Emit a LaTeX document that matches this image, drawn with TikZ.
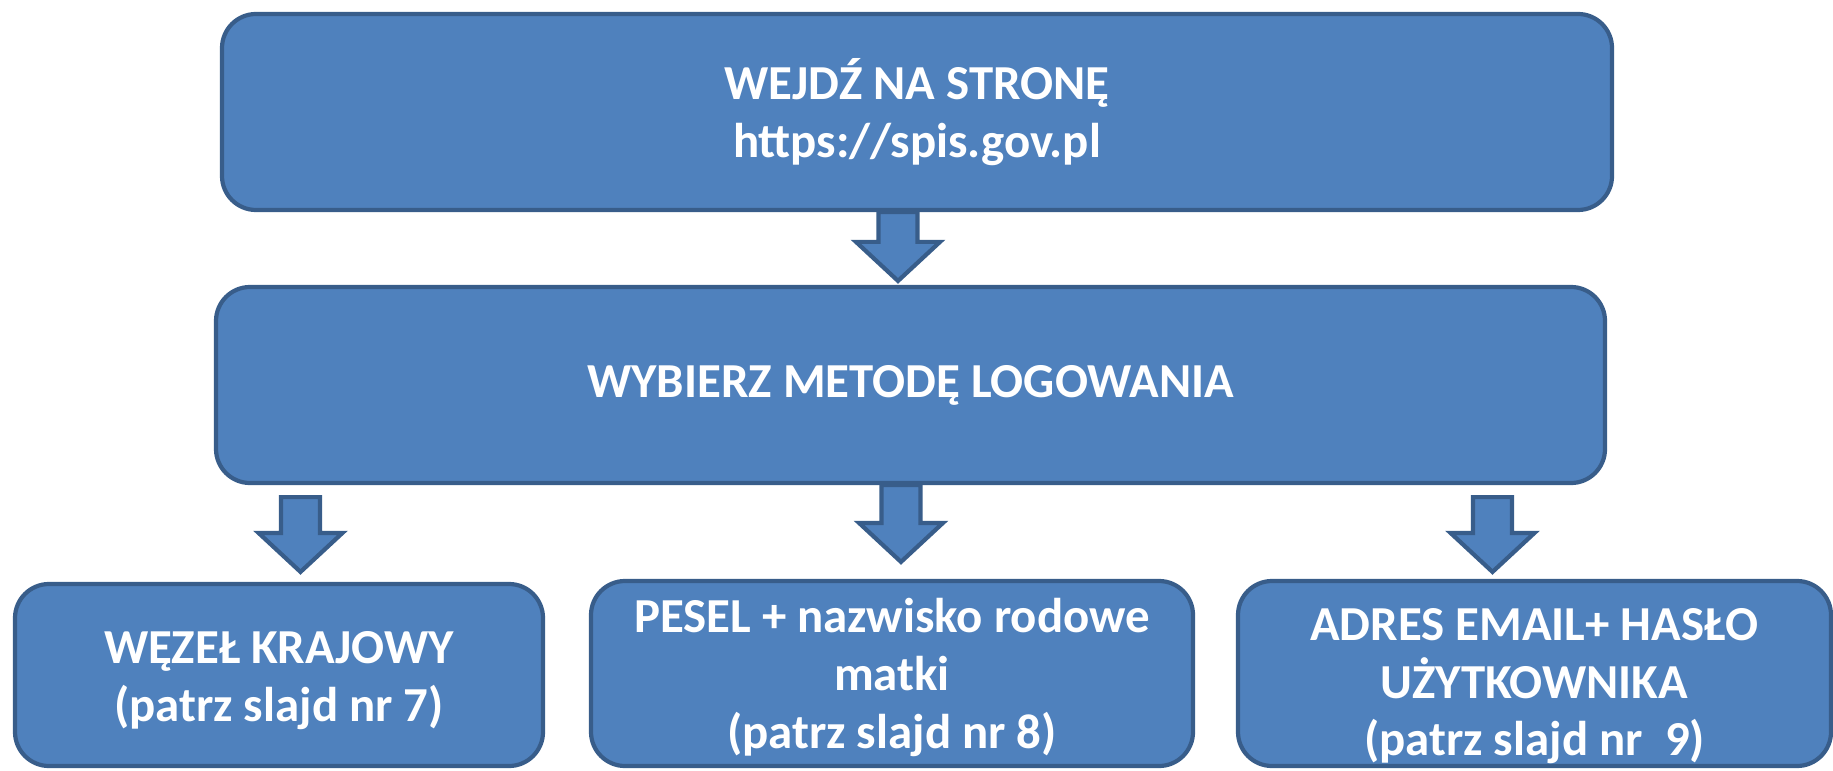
\documentclass[tikz,border=0pt]{standalone}
\usepackage{fontspec}
\setmainfont{Carlito}
\usepackage{tikz}
\usetikzlibrary{calc}
\definecolor{boxfill}{HTML}{4F81BD}
\definecolor{boxline}{HTML}{385D8A}
\tikzstyle{process} = [rectangle, rounded corners=3.4mm, draw=boxline, fill=boxfill, line width=1.2pt, text=white, font=\fontsize{13.9pt}{16.4pt}\selectfont\bfseries, align=center]
\tikzstyle{option} = [process, minimum height=1.85cm, inner ysep=0pt, text depth=0pt]
\tikzstyle{arrow} = [draw=boxline, fill=boxfill, line width=1.2pt, line join=miter, to path={($(\tikztostart)+(-1.95mm,0)$) -- ($(\tikztotarget)+(-1.95mm,3.9mm)$) -- ($(\tikztotarget)+(-4.2mm,3.9mm)$) -- (\tikztotarget) -- ($(\tikztotarget)+(4.2mm,3.9mm)$) -- ($(\tikztotarget)+(1.95mm,3.9mm)$) -- ($(\tikztostart)+(1.95mm,0)$) -- cycle}]

\begin{document}
\begin{tikzpicture}[node distance=2.73cm]
                        \useasboundingbox (0,0) rectangle (18.33,-7.71);

                        \node (1) [process, minimum width=13.9cm, minimum height=1.96cm] at (9.17,-1.12) {WEJDŹ NA STRONĘ\\https://spis.gov.pl};
                        \node (2) [process, below of=1, minimum width=13.89cm, minimum height=1.96cm, xshift=-0.065cm] {WYBIERZ METODĘ LOGOWANIA};

                        \node (4) [option, below of=2, minimum width=6.02cm, xshift=-0.185cm, yshift=-0.155cm, text height=14.95mm] {PESEL + nazwisko rodowe\\matki\\(patrz slajd nr 8)};
                        \node (3) [option, left of=4, minimum width=5.28cm, minimum height=1.82cm, xshift=-3.4cm, yshift=-0.015cm, text height=9.25mm] {WĘZEŁ KRAJOWY\\(patrz slajd nr 7)};
                        \node (5) [option, right of=4, minimum width=5.93cm, xshift=3.695cm, text height=16.45mm] {ADRES EMAIL+ HASŁO\\UŻYTKOWNIKA\\(patrz slajd nr~ 9)};

                        \coordinate (a1) at ([xshift=-1.9mm]1.south);
                        \coordinate (b1) at ([xshift=-1.25mm,yshift=0.4mm]2.north);
                        \coordinate (a2) at ([xshift=-0.95mm]2.south);
                        \coordinate (b2) at ([xshift=0.9mm,yshift=1.7mm]4.north);
                        \coordinate (a3) at ([xshift=-61mm,yshift=-1.2mm]2.south);
                        \coordinate (b3) at ([xshift=2.15mm,yshift=1mm]3.north);
                        \coordinate (a4) at ([xshift=58.2mm,yshift=-1.2mm]2.south);
                        \coordinate (b4) at ([xshift=-4.2mm,yshift=0.7mm]5.north);

                        \draw[arrow] (a1) to (b1);

                        \draw[arrow] (a3) to (b3);
                        \draw[arrow] (a2) to (b2);
                        \draw[arrow] (a4) to (b4);

                    \end{tikzpicture}
\end{document}
